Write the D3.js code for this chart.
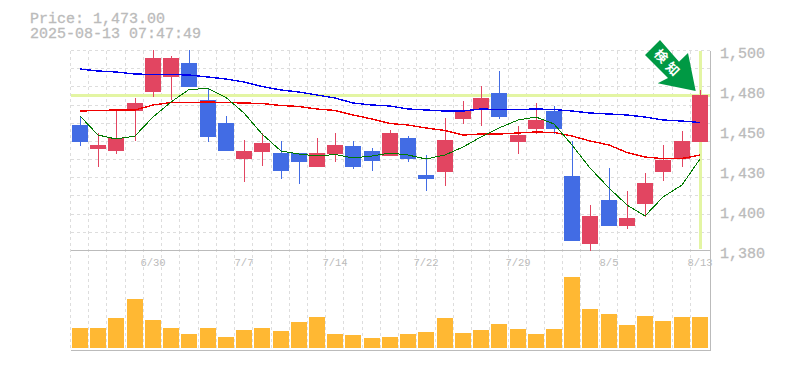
<!DOCTYPE html>
<html><head><meta charset="utf-8">
<script src="https://cdn.jsdelivr.net/npm/d3@7"></script>
<style>html,body{margin:0;padding:0;background:#fff}svg{display:block}text{font-family:"Liberation Mono",monospace}</style>
</head><body><svg id="c" width="785" height="370"></svg>
<script>
const dates=["6/24","6/25","6/26","6/27","6/30","7/1","7/2","7/3","7/4","7/7","7/8","7/9","7/10","7/11","7/14","7/15","7/16","7/17","7/18","7/22","7/23","7/24","7/25","7/28","7/29","7/30","7/31","8/1","8/4","8/5","8/6","8/7","8/8","8/12","8/13"];
const labelDates=["6/30","7/7","7/14","7/22","7/29","8/5","8/13"];
const bodyTopPx=[125,145,138,103,58,58,63,100,123,151,143,153,153,153,145,146,151,133,138,175,140,111,98,93,135,120,111,176,216,200,218,183,160,141,95];
const bodyBotPx=[142,149,151,111,92,77,87,137,151,159,152,171,162,167,154,167,161,156,159,179,172,119,109,117,142,129,129,241,244,226,226,204,172,159,142];
const wickTopPx=[116,133,111,98,50,56,50,88,116,140,133,141,153,138,133,141,148,130,136,155,118,101,86,71,126,103,106,141,205,168,191,173,145,131,90];
const wickBotPx=[146,167,154,141,97,100,87,142,151,182,166,179,184,167,162,169,171,156,162,191,186,124,126,119,154,134,134,241,251,226,229,217,181,167,142];
const isUp=[0,1,1,1,1,1,0,0,0,1,1,0,0,1,1,0,0,1,0,0,1,1,1,0,1,1,0,0,1,0,1,1,1,1,1];
const volume=[20,20,30,49,28,20,14,20,11,18,20,17,26,31,14,13,10,11,14,16,30,15,18,24,19,14,19,71,39,34,23,32,27,31,31];
const maLong=[69,71,72,74,74.5,74.5,75,77,79,82,86.5,90,92,95,98,103,105,106,109,110,111,111,109,109.5,109.5,109,109.5,111,113,114,115,117,120,121,122.5];
const maMid=[111,110.5,110,110,105,102.5,102.5,102,102.5,103,103.5,105.5,106.5,109,110.5,115,119,123.5,125,128,130.5,135,134,134,133,132,132.5,136,141,145,152.5,157,158.7,158.5,155];
const maShort=[116,135,139,136,117,102,89.5,88.5,97.5,113,134,151,154,156,154.5,158,156,153,155,159,155,147,137,128,120,117,124,145,168,188,205,216,197,185,159];
const yTicks=[1500,1476,1452,1428,1404,1380];
const lastPrice=1473;
const priceText="Price: 1,473.00", timeText="2025-08-13 07:47:49";
const badge=["検","知"];

const svg=d3.select("#c");
const L=70.5,R=710.5,T=50.5,B=250.5,VB=350.5;
const x=d3.scaleBand().domain(dates).range([L,L+18.23*35]).paddingInner(0);
const left=d=>Math.floor(x(d));
const cx=d=>left(d)+10;
const y=d3.scaleLinear().domain([1380,1500]).range([B,T]);
const p=v=>1500-(v-T)*120/200;
const v=d3.scaleLinear().domain([0,98]).range([348,250]);
const crisp="crispEdges";

const row=dates.map((d,i)=>({d,up:isUp[i],hi:p(wickTopPx[i]),lo:p(wickBotPx[i]),top:p(bodyTopPx[i]),bot:p(bodyBotPx[i]),vol:volume[i]}));

// grid
const g=svg.append("g").attr("stroke","#ddd").attr("stroke-width",1).attr("stroke-dasharray","3 3").attr("shape-rendering",crisp);
d3.range(0,11).forEach(i=>{const yy=Math.floor(T+i*200/11)+.5;g.append("line").attr("x1",L).attr("x2",R).attr("y1",yy).attr("y2",yy);});
dates.forEach(d=>{const xx=left(d)+.5;g.append("line").attr("x1",xx).attr("x2",xx).attr("y1",T).attr("y2",VB);});

// current price cross
const cross="#e3f5a3";
svg.append("line").attr("x1",L).attr("x2",R).attr("y1",y(lastPrice)).attr("y2",y(lastPrice)).attr("stroke",cross).attr("stroke-width",3).attr("shape-rendering",crisp);
svg.append("line").attr("x1",cx("8/13")+.5).attr("x2",cx("8/13")+.5).attr("y1",T).attr("y2",249).attr("stroke",cross).attr("stroke-width",3).attr("shape-rendering",crisp);

// frame
const f=svg.append("g").attr("stroke","#bbb").attr("shape-rendering",crisp);
f.append("line").attr("x1",L).attr("x2",R).attr("y1",B).attr("y2",B);
f.append("line").attr("x1",L).attr("x2",R).attr("y1",VB).attr("y2",VB);
f.append("line").attr("x1",R).attr("x2",R).attr("y1",T).attr("y2",VB);

// candles
const cg=svg.append("g").attr("shape-rendering",crisp);
const col=d=>d.up?"#e24561":"#426ce4";
cg.selectAll(".w").data(row).join("rect").attr("x",d=>left(d.d)+10).attr("width",1).attr("y",d=>y(d.hi)).attr("height",d=>y(d.lo)-y(d.hi)).attr("fill",col);
cg.selectAll(".b").data(row).join("rect").attr("x",d=>left(d.d)+2).attr("width",16).attr("y",d=>y(d.top)).attr("height",d=>y(d.bot)-y(d.top)).attr("fill",col);

// moving averages
const line=a=>d3.line().x((d,i)=>cx(dates[i])).y(d=>y(p(d)))(a);
[[maLong,"#0000ee",1.4],[maMid,"#f00000",1.4],[maShort,"#007a00",1]].forEach(([a,c,w])=>{
 svg.append("path").attr("d",line(a)).attr("fill","none").attr("stroke",c).attr("stroke-width",w).attr("shape-rendering",crisp);
});

// volume
svg.append("g").attr("shape-rendering",crisp).selectAll("rect").data(row).join("rect")
 .attr("x",d=>left(d.d)+2).attr("width",16).attr("y",d=>v(d.vol)).attr("height",d=>v(0)-v(d.vol)).attr("fill","#ffb833");

// labels
const heavy=s=>s.attr("stroke","#bbb").attr("stroke-width",.3);
svg.selectAll(".yl").data(yTicks).join("text").attr("x",720).attr("y",d=>y(d)+7.5).attr("font-size",15).attr("fill","#bbb").call(heavy)
 .text(d=>d3.format(",")(Math.round(d/10)*10));
svg.selectAll(".xl").data(labelDates).join("text").attr("x",d=>cx(d)).attr("y",266).attr("text-anchor","middle").attr("font-size",10.5).attr("fill","#bbb").text(d=>d);
svg.append("text").attr("x",30).attr("y",23).attr("font-size",15).attr("fill","#bbb").call(heavy).text(priceText);
svg.append("text").attr("x",30).attr("y",38).attr("font-size",15).attr("fill","#bbb").call(heavy).text(timeText);

// signal arrow
svg.append("path").attr("d",d3.line()([[660,40],[645,55],[668,78],[657.7,83.3],[695.7,91],[688,53],[679,61.7]])+"Z").attr("fill","#009944");
badge.forEach((t,i)=>{
 svg.append("text").attr("transform",`translate(${661+i*11.5},${56+i*13}) rotate(45)`).attr("text-anchor","middle").attr("dy","0.35em")
  .attr("font-size",13).attr("font-weight","bold").attr("fill","#fff").style("font-family","'Noto Sans CJK JP'").text(t);
});
</script></body></html>
